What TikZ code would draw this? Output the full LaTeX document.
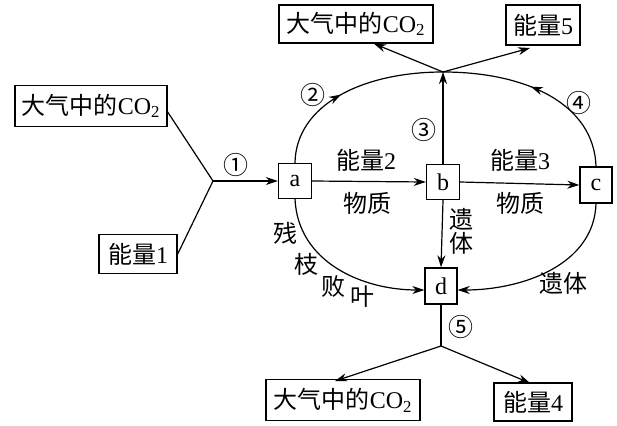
\documentclass[tikz,border=0pt]{standalone}
\usepackage{fontspec}
\setmainfont{Liberation Serif}
\newfontfamily\cjk{Noto Sans CJK SC}
\usetikzlibrary{arrows.meta,decorations.markings}
\newcommand{\zh}[1]{{\cjk #1}}
\newcommand{\cn}[1]{{\cjk\fontsize{25}{26}\selectfont #1}}
\begin{document}
\begin{tikzpicture}[x=1pt,y=-1pt,
  every node/.style={font=\fontsize{24}{27}\selectfont},
  box/.style={draw,line width=1.4pt,inner sep=0pt,align=center},
  lbl/.style={inner sep=0pt},
  conn/.style={line width=1.2pt},
  arr/.style={line width=1.2pt,-{Stealth[length=12pt,width=8pt]}},
  midarr/.style={line width=1.2pt,postaction={decorate},decoration={markings,mark=at position #1 with {\arrow{Stealth[length=12pt,width=8pt]}}}}
]
\useasboundingbox (0,0) rectangle (617,425);
% boxes
\node[box,minimum width=152pt,minimum height=41pt] (co2L) at (91,106) {\zh{大气中的}CO\textsubscript{2}};
\node[box,minimum width=78pt,minimum height=39pt] (e1) at (138,254) {\zh{能量}1};
\node[box,minimum width=33pt,minimum height=35pt] (a) at (295,181) {a};
\node[box,minimum width=33pt,minimum height=35pt] (b) at (443,182) {b};
\node[box,minimum width=32pt,minimum height=36pt] (c) at (596,185) {c};
\node[box,minimum width=32pt,minimum height=36pt] (d) at (441,286) {d};
\node[box,minimum width=154pt,minimum height=38pt] (co2T) at (356,24) {\zh{大气中的}CO\textsubscript{2}};
\node[box,minimum width=74pt,minimum height=40pt] (e5) at (543,25) {\zh{能量}5};
\node[box,minimum width=154pt,minimum height=41pt] (co2B) at (343,400) {\zh{大气中的}CO\textsubscript{2}};
\node[box,minimum width=78pt,minimum height=38pt] (e4) at (533,402) {\zh{能量}4};
% junctions
\coordinate (j1) at (213,181);
\coordinate (jt) at (443,72);
\coordinate (jb) at (441,346);
% left input
\draw[conn] (co2L.east |- 0,112) -- (j1);
\draw[conn] (e1.east) -- (j1);
\draw[arr] (j1) -- (a.west);
% a -> b -> c
\draw[arr] (a.east) -- (b.west);
\draw[arr] (b.east) -- (c.west);
% b -> jt
\draw[arr] (b.north) -- (jt);
% arcs to top junction
\draw[midarr=0.45] (a.north) .. controls (296,105) and (362,72) .. (jt);
\draw[midarr=0.55] (c.north) .. controls (594,105) and (528,72) .. (jt);
% top outputs
\draw[arr] (jt) -- (co2T.south -| 374,0);
\draw[arr] (jt) -- (530,48);
% to d
\draw[arr] (b.south) -- (d.north);
\draw[arr] (a.south) .. controls (298,262) and (362,290) .. (d.west |- 0,290);
\draw[arr] (c.south) .. controls (594,265) and (522,290) .. (d.east |- 0,290);
% d outputs
\draw[conn] (d.south) -- (jb);
\draw[arr] (jb) -- (335,381);
\draw[arr] (jb) -- (530,383);
% labels
\node[lbl] (n1) at (236,165) {\cn{①}};
\node[lbl] (n2) at (313,95) {\cn{②}};
\node[lbl] (n3) at (424,130) {\cn{③}};
\node[lbl] (n4) at (579,103) {\cn{④}};
\node[lbl] (n5) at (461,327) {\cn{⑤}};
\node[lbl] (t1) at (366,160) {\zh{能量}2};
\node[lbl] (t2) at (367,203) {\zh{物质}};
\node[lbl] (t3) at (520,160) {\zh{能量}3};
\node[lbl] (t4) at (520,203) {\zh{物质}};
\node[lbl,align=center,font=\fontsize{24}{24}\selectfont] (t5) at (461,231) {\zh{遗}\\\zh{体}};
\node[lbl] (t6) at (563,283) {\zh{遗体}};
\node[lbl] (k1) at (285,233) {\zh{残}};
\node[lbl] (k2) at (306,264) {\zh{枝}};
\node[lbl] (k3) at (333,286) {\zh{败}};
\node[lbl] (k4) at (362,297) {\zh{叶}};
\end{tikzpicture}
\end{document}
